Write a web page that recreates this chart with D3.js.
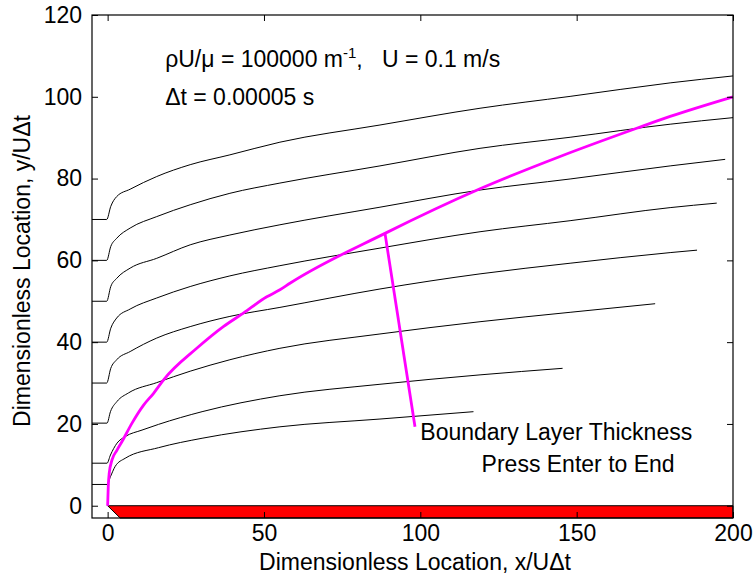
<!DOCTYPE html>
<html lang="en">

<head>
    <meta charset="UTF-8">
    <title>Boundary layer</title>
    <script src="https://d3js.org/d3.v7.min.js"></script>
    <style>
        body {
            margin: 0;
            background: #fff;
        }

        text {
            font-family: "Liberation Sans", Arial, sans-serif;
            fill: #000;
        }

        .tick text {
            font-size: 23px;
        }

        .streak {
            fill: none;
            stroke: #000;
            stroke-width: 1px;
        }

        .thick {
            fill: none;
            stroke: #ff00ff;
            stroke-width: 2.8px;
        }
    </style>
</head>

<body>
    <script>
        // axis ticks
        var xTicks = [0, 50, 100, 150, 200];
        var yTicks = [0, 20, 40, 60, 80, 100, 120];

        // streak lines, one per start height
        var x70 = [-5, -0.3, 1, 2.9, 7.2, 15.7, 26.4, 39.1, 55.1, 87.1, 119.1, 147.9, 179.9, 200];
        var y70 = [70, 70, 73.2, 75.6, 77.4, 80.5, 83.4, 85.8, 88.9, 93.1, 97.2, 100.1, 103.4, 105.1];

        var x60 = [-5, -0.3, 1, 2.9, 7.2, 15.7, 26.4, 39.1, 55.1, 87.1, 119.1, 147.9, 179.9, 200];
        var y60 = [60, 60, 63.4, 65.4, 67.9, 70.7, 73.6, 76.4, 78.9, 83.1, 87.4, 90.1, 93.3, 94.9];

        var x50 = [-5, -0.3, 1, 2.9, 7.2, 15.7, 26.4, 39.1, 55.1, 87.1, 119.1, 147.9, 179.9, 197.5];
        var y50 = [50, 50, 53.6, 55.6, 58.1, 60.5, 63.8, 66.2, 68.7, 73.0, 77.2, 79.9, 83.1, 84.7];

        var x40 = [-5, -0.3, 1, 2.9, 7.2, 15.7, 26.4, 39.1, 55.1, 87.1, 119.1, 147.9, 179.9, 194.8];
        var y40 = [40, 40, 43.4, 45.9, 48.1, 50.8, 53.6, 56.2, 58.7, 63.0, 67.0, 69.7, 72.9, 74.0];

        var x30 = [-5, -0.3, 1, 2.9, 7.2, 15.7, 26.4, 39.1, 55.1, 87.1, 119.1, 147.9, 179.9, 188.5];
        var y30 = [30, 30, 33.6, 35.7, 37.7, 41.0, 43.8, 46.3, 48.5, 53.0, 56.7, 59.3, 61.9, 62.5];

        var x20 = [-5, -0.2, 0.9, 3.0, 6.7, 15.7, 26.4, 39.1, 55.1, 87.1, 119.1, 147.9, 175.1];
        var y20 = [20.2, 20.2, 23, 25.5, 27.6, 30.1, 32.9, 35.7, 38.5, 42.0, 45.0, 47.3, 49.4];

        var x10 = [-5, -0.2, 0.9, 3.0, 5.6, 11, 16.3, 30.2, 55.1, 87.1, 119.1, 145.5];
        var y10 = [10.4, 10.4, 12.4, 15.3, 16.9, 18.5, 19.9, 23.0, 26.9, 29.7, 32.0, 33.6];

        var x5 = [-5, -0.2, 0.9, 2.4, 5.6, 16.3, 30.2, 55.1, 87.1, 117];
        var y5 = [5.2, 5.2, 7.1, 9.6, 11.6, 14.2, 16.5, 19.3, 21.2, 23.0];

        // boundary layer thickness (magenta)
        var xBL = [0, 0.2, 0.5, 1.4, 3, 4.6, 7.8, 11.5, 14.7, 17.9, 28.5, 37, 43.4, 50.9, 55.1, 58.3, 88.7, 119.1, 144.7, 169.2, 179.9, 200];
        var yBL = [0, 4.7, 7.9, 11.2, 13.6, 15.7, 20.2, 24.6, 27.5, 30.8, 38.5, 43.8, 47.1, 51.1, 52.8, 54.4, 66.6, 77.5, 85.4, 92.3, 95.2, 100];

        // pointer from the curve down to the label
        var xPointer = [88.7, 98.3];
        var yPointer = [66.6, 19.3];

        // plate (red) outline
        var xPlate = [0, 200, 200, 4];
        var yPlate = [0, 0, -3, -3];

        var width = 753, height = 580;
        var margin = { top: 15, right: 20, bottom: 62, left: 92 };
        var w = width - margin.left - margin.right;
        var h = height - margin.top - margin.bottom;

        var x = d3.scaleLinear().domain([-5, 200]).range([0, w]);
        var y = d3.scaleLinear().domain([-3, 120]).range([h, 0]);

        var svg = d3.select("body")
            .append("svg")
            .attr("width", width)
            .attr("height", height);

        var canvas = svg.append("g")
            .attr("transform", "translate(" + margin.left + "," + margin.top + ")");

        function zip(xs, ys) {
            return xs.map(function (d, i) { return [d, ys[i]]; });
        }

        var line = d3.line()
            .x(function (d) { return x(d[0]); })
            .y(function (d) { return y(d[1]); });

        var smooth = d3.line()
            .curve(d3.curveMonotoneX)
            .x(function (d) { return x(d[0]); })
            .y(function (d) { return y(d[1]); });

        // streak lines
        var streaks = [zip(x70, y70), zip(x60, y60), zip(x50, y50), zip(x40, y40),
            zip(x30, y30), zip(x20, y20), zip(x10, y10), zip(x5, y5)];

        canvas.selectAll(".streak")
            .data(streaks)
            .enter()
            .append("path")
            .attr("class", "streak")
            .attr("d", smooth);

        // red plate
        canvas.append("path")
            .attr("d", line(zip(xPlate, yPlate)) + "Z")
            .attr("fill", "#ff0000")
            .attr("stroke", "#000")
            .attr("stroke-width", 1);

        // boundary layer thickness + pointer
        canvas.append("path")
            .attr("class", "thick")
            .attr("d", smooth(zip(xBL, yBL)));

        canvas.append("path")
            .attr("class", "thick")
            .attr("d", line(zip(xPointer, yPointer)));

        // axes, ticks point inward like matlab
        canvas.append("g")
            .attr("transform", "translate(0," + h + ")")
            .call(d3.axisBottom(x).tickValues(xTicks).tickSize(-6).tickSizeOuter(0).tickPadding(7));
        canvas.append("g")
            .call(d3.axisLeft(y).tickValues(yTicks).tickSize(-6).tickSizeOuter(0).tickPadding(10));
        canvas.append("g")
            .call(d3.axisTop(x).tickValues(xTicks).tickSize(-6).tickSizeOuter(0).tickFormat(""));
        canvas.append("g")
            .attr("transform", "translate(" + w + ",0)")
            .call(d3.axisRight(y).tickValues(yTicks).tickSize(-6).tickSizeOuter(0).tickFormat(""));

        canvas.selectAll(".domain").remove();
        canvas.selectAll(".tick line").attr("stroke", "#000");

        canvas.append("rect")
            .attr("width", w)
            .attr("height", h)
            .attr("fill", "none")
            .attr("stroke", "#000")
            .attr("stroke-width", 1.2);

        // annotations
        var note = canvas.append("text")
            .attr("x", x(18.4))
            .attr("y", y(107.3))
            .style("font-size", "23px")
            .style("white-space", "pre");
        note.append("tspan").text("\u03c1U/\u03bc = 100000 m");
        note.append("tspan").attr("dy", -9).style("font-size", "15px").text("-1");
        note.append("tspan").attr("dy", 9).text(",   U = 0.1 m/s");

        canvas.append("text")
            .attr("x", x(18.4))
            .attr("y", y(98))
            .style("font-size", "23px")
            .text("\u0394t = 0.00005 s");

        canvas.append("text")
            .attr("x", x(100))
            .attr("y", y(16.1))
            .style("font-size", "23px")
            .text("Boundary Layer Thickness");

        canvas.append("text")
            .attr("x", x(119.6))
            .attr("y", y(8.3))
            .style("font-size", "23px")
            .text("Press Enter to End");

        // axis labels
        svg.append("text")
            .attr("x", 415)
            .attr("y", 570)
            .attr("text-anchor", "middle")
            .style("font-size", "23px")
            .text("Dimensionless Location, x/U\u0394t");

        svg.append("text")
            .attr("transform", "translate(30,271) rotate(-90)")
            .attr("text-anchor", "middle")
            .style("font-size", "23px")
            .text("Dimensionless Location, y/U\u0394t");
    </script>
</body>
</html>
